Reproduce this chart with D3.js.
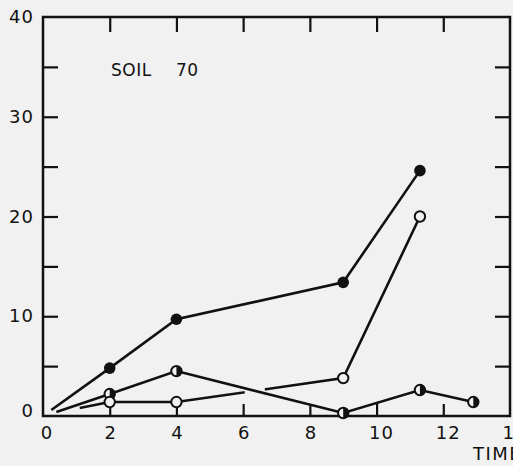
<!DOCTYPE html>
<html>
<head>
<meta charset="utf-8">
<script src="https://cdn.jsdelivr.net/npm/d3@7"></script>
<style>
  html, body { margin: 0; padding: 0; background: #f1f1f1; }
  text { font-family: "DejaVu Sans", sans-serif; fill: #111; }
</style>
</head>
<body>
<div id="chart"></div>
<script>
// Chart data (time vs. value, soil 70)
var filledTime = [0.25, 2, 4, 9, 11.3];
var filledVal  = [0.6, 4.8, 9.7, 13.4, 24.6];

var halfTime = [0.4, 2, 4, 9, 11.3, 12.9];
var halfVal  = [0.4, 2.2, 4.5, 0.3, 2.6, 1.4];

var openTime = [1.1, 2, 4, 9, 11.3];
var openVal  = [0.8, 1.4, 1.4, 3.8, 20];
// the open-circle line is broken where the half-filled line crosses it
var openGap = [6.05, 6.65];

var xTicks = [2, 4, 6, 8, 10, 12];
var xLabels = [0, 2, 4, 6, 8, 10, 12, 14];
var yTicks = [5, 10, 15, 20, 25, 30, 35];
var yLabels = [0, 10, 20, 30, 40];

var svgWidth = 513;
var svgHeight = 466;

var svg = d3.select("#chart")
    .append("svg")
    .attr("width", svgWidth)
    .attr("height", svgHeight);

var x = d3.scaleLinear().domain([0, 14]).range([43, 510]);
var y = d3.scaleLinear().domain([0, 40]).range([416, 17]);

var ink = "#111";
var paper = "#f1f1f1";

// Frame
svg.append("rect")
    .attr("x", x(0))
    .attr("y", y(40))
    .attr("width", x(14) - x(0))
    .attr("height", y(0) - y(40))
    .attr("fill", "none")
    .attr("stroke", ink)
    .attr("stroke-width", 2.5);

// Inward ticks on all four sides
function tickAxis(axis, transform) {
  var g = svg.append("g").attr("transform", transform).call(axis);
  g.select(".domain").remove();
  g.selectAll("line").attr("stroke", ink).attr("stroke-width", 2.2);
  return g;
}
tickAxis(d3.axisBottom(x).tickValues(xTicks).tickSizeInner(-12).tickSizeOuter(0).tickFormat(""),
  "translate(0," + y(0) + ")");
tickAxis(d3.axisTop(x).tickValues(xTicks).tickSizeInner(-15).tickSizeOuter(0).tickFormat(""),
  "translate(0," + y(40) + ")");
tickAxis(d3.axisLeft(y).tickValues(yTicks).tickSizeInner(-15).tickSizeOuter(0).tickFormat(""),
  "translate(" + x(0) + ",0)");
tickAxis(d3.axisRight(y).tickValues(yTicks).tickSizeInner(-15).tickSizeOuter(0).tickFormat(""),
  "translate(" + x(14) + ",0)");

// Tick labels
svg.append("g").selectAll("text")
    .data(xLabels)
    .enter()
    .append("text")
    .attr("x", d => x(d) + (d === 0 ? 4 : d >= 10 ? 5 : 1))
    .attr("y", 439)
    .attr("text-anchor", "middle")
    .style("font-size", "18px")
    .style("letter-spacing", "1px")
    .text(d => d);

svg.append("g").selectAll("text")
    .data(yLabels)
    .enter()
    .append("text")
    .attr("x", 34)
    .attr("y", d => y(d) + (d === 0 ? 1 : 6))
    .attr("text-anchor", "end")
    .style("font-size", "18px")
    .style("letter-spacing", "1px")
    .text(d => d);

svg.append("text")
    .attr("x", 473)
    .attr("y", 460)
    .style("font-size", "18px")
    .style("letter-spacing", "1.5px")
    .text("TIME");

svg.append("text")
    .attr("x", 111)
    .attr("y", 76)
    .style("font-size", "17px")
    .style("letter-spacing", "0.5px")
    .text("SOIL");
svg.append("text")
    .attr("x", 176)
    .attr("y", 76)
    .style("font-size", "17px")
    .style("letter-spacing", "0.5px")
    .text("70");

// Lines
var line = d3.line().x(d => x(d[0])).y(d => y(d[1]));
function pts(t, v) { return t.map((d, i) => [d, v[i]]); }

var clip = svg.append("defs").append("clipPath").attr("id", "openClip");
clip.append("rect")
    .attr("x", 0).attr("y", 0)
    .attr("width", x(openGap[0])).attr("height", svgHeight);
clip.append("rect")
    .attr("x", x(openGap[1])).attr("y", 0)
    .attr("width", svgWidth - x(openGap[1])).attr("height", svgHeight);

svg.append("path")
    .datum(pts(openTime, openVal))
    .attr("d", line)
    .attr("clip-path", "url(#openClip)")
    .attr("fill", "none").attr("stroke", ink).attr("stroke-width", 2.6);

svg.append("path")
    .datum(pts(halfTime, halfVal))
    .attr("d", line)
    .attr("fill", "none").attr("stroke", ink).attr("stroke-width", 2.6);

svg.append("path")
    .datum(pts(filledTime, filledVal))
    .attr("d", line)
    .attr("fill", "none").attr("stroke", ink).attr("stroke-width", 2.6);

// Markers (first point of each series is the line start, no marker)
var r = 5.2;
var half = d3.arc().innerRadius(0).outerRadius(r).startAngle(0).endAngle(Math.PI);

svg.append("g").selectAll("circle")
    .data(pts(filledTime, filledVal).slice(1))
    .enter()
    .append("circle")
    .attr("cx", d => x(d[0])).attr("cy", d => y(d[1]))
    .attr("r", r + 0.6)
    .attr("fill", ink);

var halfG = svg.append("g").selectAll("g")
    .data(pts(halfTime, halfVal).slice(1))
    .enter()
    .append("g")
    .attr("transform", d => "translate(" + x(d[0]) + "," + y(d[1]) + ")");
halfG.append("circle")
    .attr("r", r)
    .attr("fill", paper)
    .attr("stroke", ink).attr("stroke-width", 2);
halfG.append("path")
    .attr("d", half)
    .attr("fill", ink);

svg.append("g").selectAll("circle")
    .data(pts(openTime, openVal).slice(1))
    .enter()
    .append("circle")
    .attr("cx", d => x(d[0])).attr("cy", d => y(d[1]))
    .attr("r", r)
    .attr("fill", paper)
    .attr("stroke", ink).attr("stroke-width", 2);
</script>
</body>
</html>
